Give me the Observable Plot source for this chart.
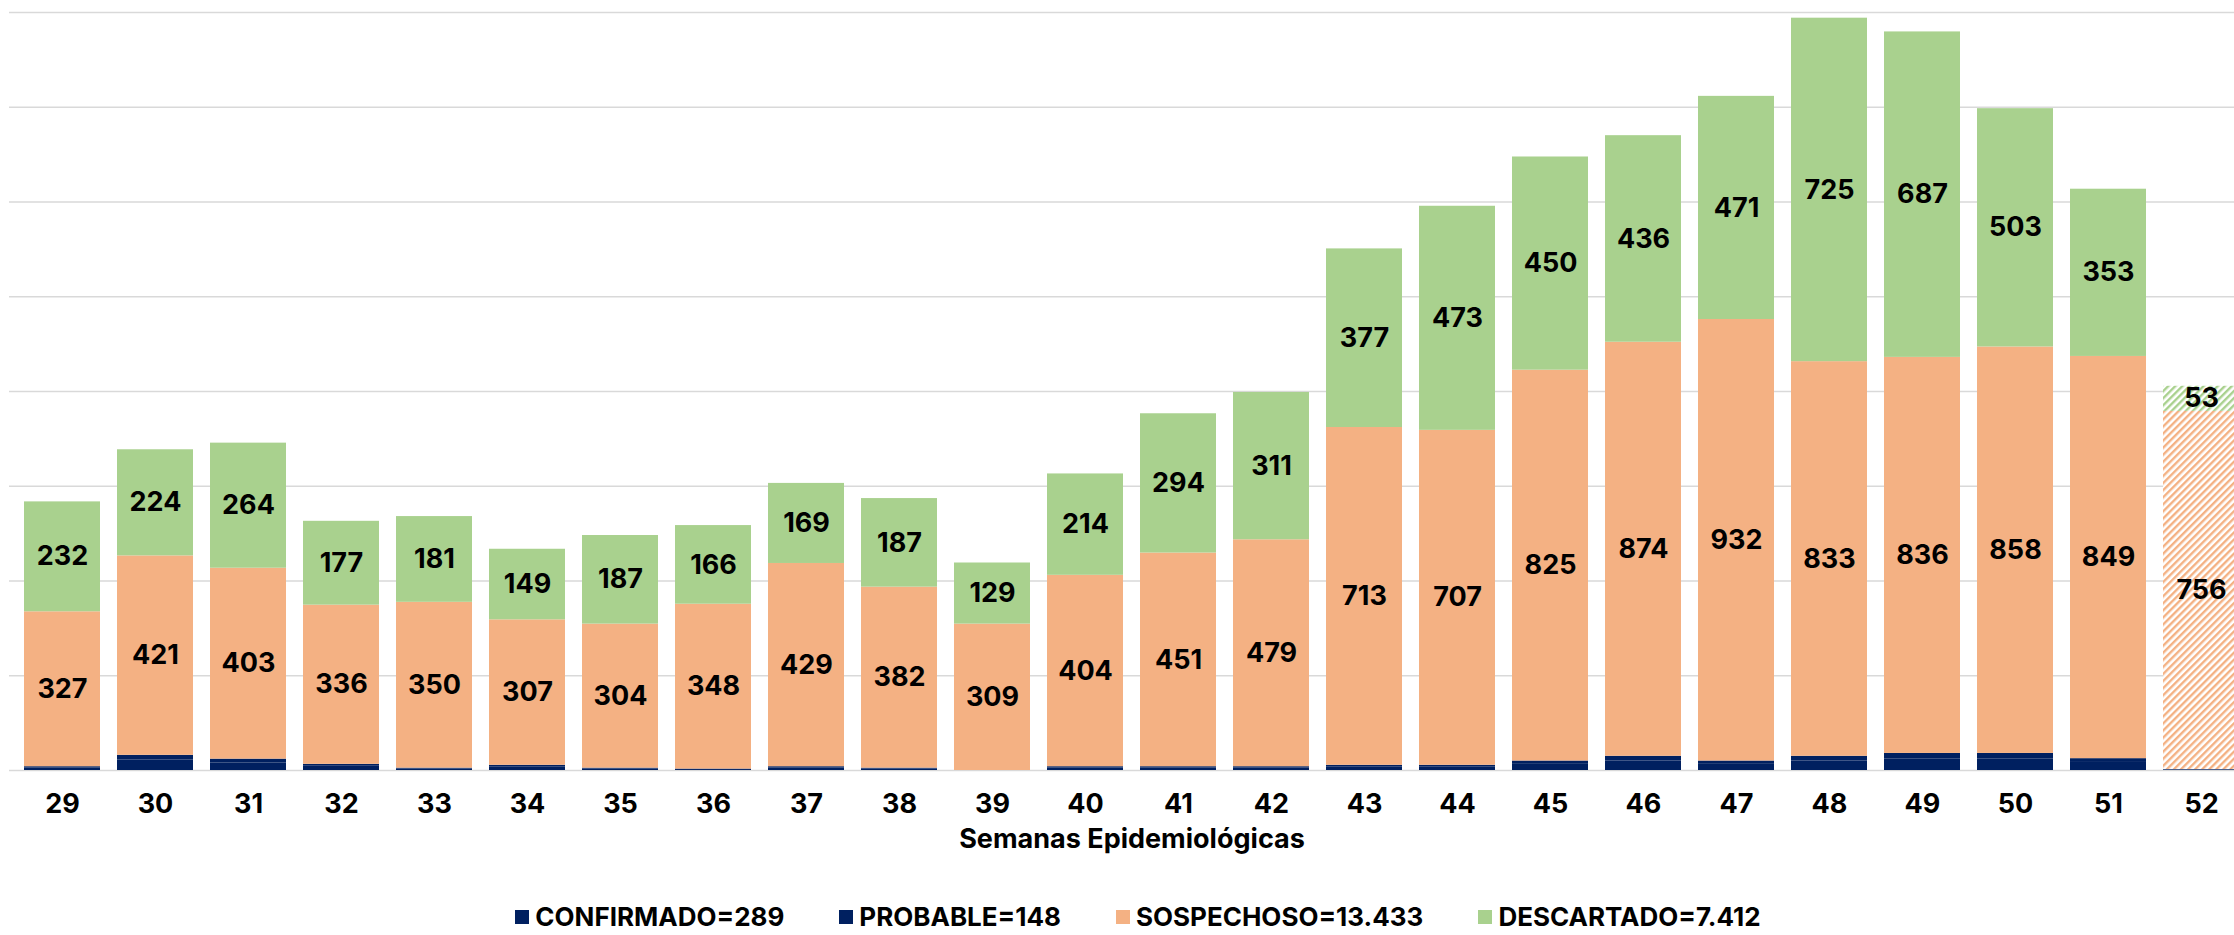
<!DOCTYPE html>
<html>
<head>
<meta charset="utf-8">
<script src="https://cdn.jsdelivr.net/npm/d3@7"></script>
<script src="https://cdn.jsdelivr.net/npm/@observablehq/plot@0.6"></script>
<style>
  html, body { margin: 0; padding: 0; background: #fff; overflow: hidden; }
  #chart { position: relative; width: 2234px; height: 935px; overflow: hidden; }
  #legend {
    position: absolute; left: 0; width: 2234px; box-sizing: border-box; padding-left: 42px;
    top: 901px; line-height: 32px; height: 32px;
    display: flex; justify-content: center; align-items: center; gap: 55px;
    font-family: Inter, "Open Sans", sans-serif; font-weight: 700; font-size: 26px; color: #000;
  }
  .item { display: flex; align-items: center; gap: 6px; white-space: nowrap; }
  .sw { width: 14px; height: 14px; display: inline-block; }
</style>
</head>
<body>
<div id="chart"></div>
<script>
// ---- data ----
const weeks = [29,30,31,32,33,34,35,36,37,38,39,40,41,42,43,44,45,46,47,48,49,50,51,52];
const confirmado = [5,22,16,9,3,7,3,2,5,3,0,5,5,5,7,7,13,20,13,20,24,24,17,1];
const probable   = [3,10,8,4,2,4,2,1,3,2,0,3,3,3,4,4,7,10,7,10,12,12,8,1];
const sospechoso = [327,421,403,336,350,307,304,348,429,382,309,404,451,479,713,707,825,874,932,833,836,858,849,756];
const descartado = [232,224,264,177,181,149,187,166,169,187,129,214,294,311,377,473,450,436,471,725,687,503,353,53];
const seriesNames = ["CONFIRMADO","PROBABLE","SOSPECHOSO","DESCARTADO"];
const legendTotals = ["289","148","13.433","7.412"];
const labelledSeries = ["SOSPECHOSO","DESCARTADO"];
const projectedWeek = 52;
const yTicks = [0,200,400,600,800,1000,1200,1400,1600];
const axisTitle = "Semanas Epidemiológicas";

// ---- styles ----
const seriesColors = ["#002060","#002060","#F4B183","#A9D18E"];
const hatchIds = [null,null,"hatch-orange","hatch-green"];

const values = [confirmado, probable, sospechoso, descartado];
const rows = [];
weeks.forEach((w, i) => {
  seriesNames.forEach((s, k) => {
    const hatched = w === projectedWeek && hatchIds[k];
    rows.push({
      week: w,
      series: s,
      value: values[k][i],
      fill: hatched ? `url(#${hatchIds[k]})` : seriesColors[k],
      label: labelledSeries.includes(s) ? String(values[k][i]) : ""
    });
  });
});

const FONT = "Inter, 'Open Sans', sans-serif";

const svg = Plot.plot({
  width: 2254,
  height: 870,
  marginTop: 12,
  marginBottom: 100,
  marginLeft: 9,
  marginRight: 0,
  style: { fontFamily: FONT, fontWeight: 700, fontSize: "27px", color: "#000", maxWidth: "none", background: "white" },
  x: { domain: weeks, paddingInner: 0.18, paddingOuter: 0.09, axis: null, label: null },
  y: { domain: [0, 1600], axis: null },
  color: { type: "identity" },
  marks: [
    Plot.ruleY(yTicks, { stroke: "#d9d9d9", strokeWidth: 1.6 }),
    Plot.barY(rows, Plot.stackY({ x: "week", y: "value", z: "series", fill: "fill", order: null })),
    Plot.text(rows, Plot.stackY({ x: "week", y: "value", z: "series", order: null, text: "label", fontSize: 27, fontWeight: 700, fill: "#000" })),
    Plot.axisX({ label: null, tickSize: 0, tickPadding: 23, fontSize: 27, fontWeight: 700, fill: "#000" }),
    Plot.text([axisTitle], { frameAnchor: "bottom", dy: 77, fontSize: 27, fontWeight: 700, fill: "#000" })
  ]
});

// hatch patterns for the projected week
const defs = d3.select(svg).insert("defs", ":first-child");
[["hatch-orange", seriesColors[2]], ["hatch-green", seriesColors[3]]].forEach(([id, c]) => {
  const p = defs.append("pattern")
    .attr("id", id).attr("width", 5).attr("height", 5)
    .attr("patternUnits", "userSpaceOnUse")
    .attr("patternTransform", "rotate(45)");
  p.append("rect").attr("width", 5).attr("height", 5).attr("fill", "white");
  p.append("rect").attr("width", 2.4).attr("height", 5).attr("fill", c);
});

const chart = document.getElementById("chart");
chart.appendChild(svg);

const legend = document.createElement("div");
legend.id = "legend";
seriesNames.forEach((s, k) => {
  const it = document.createElement("div");
  it.className = "item";
  const sw = document.createElement("span");
  sw.className = "sw";
  sw.style.background = seriesColors[k];
  const t = document.createElement("span");
  t.textContent = `${s}=${legendTotals[k]}`;
  it.appendChild(sw); it.appendChild(t);
  legend.appendChild(it);
});
chart.appendChild(legend);
</script>
</body>
</html>
